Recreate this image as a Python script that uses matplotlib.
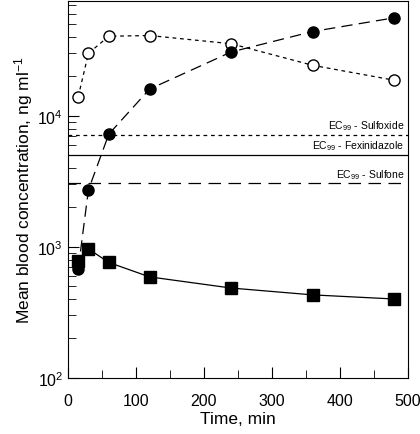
import matplotlib
matplotlib.use('Agg')
import matplotlib.pyplot as plt
import numpy as np

plt.rcParams['font.family'] = ['Liberation Sans', 'DejaVu Sans']
plt.rcParams['mathtext.fontset'] = 'custom'
plt.rcParams['mathtext.rm'] = 'Liberation Sans'
plt.rcParams['mathtext.it'] = 'Liberation Sans:italic'

# tiempos de muestreo (min)
time = [15, 30, 60, 120, 240, 360, 480]

# concentraciones en sangre (ng/ml)
fexinidazole = [780, 965, 760, 590, 485, 430, 400]
sulfoxide = [14000, 30000, 40500, 41000, 35500, 24300, 18700]
sulfone = [680, 2720, 7250, 16000, 30700, 44000, 56000]

# EC99 de cada compuesto
ec99_names = ['Sulfoxide', 'Fexinidazole', 'Sulfone']
ec99_values = [7200, 5000, 3050]
ec99_styles = [(0, (3, 3)), '-', (0, (10, 6))]

fig = plt.figure(figsize=(4.2, 4.35), dpi=100)
ax = fig.add_axes([0.162, 0.129, 0.809, 0.866])

for name, val, ls in zip(ec99_names, ec99_values, ec99_styles):
	ax.axhline(val, color='black', lw=0.9, ls=ls)
	ax.text(495, val*1.05, r'EC$_{99}$ - ' + name, ha='right', va='bottom', fontsize=7.5)

ax.plot(time, sulfoxide, color='black', lw=0.9, ls=(0, (3, 3)), marker='o',
	mfc='white', mec='black', ms=8, mew=1)
ax.plot(time, sulfone, color='black', lw=0.9, ls=(0, (9, 5)), marker='o',
	mfc='black', mec='black', ms=8)
ax.plot(time, fexinidazole, color='black', lw=0.9, marker='s',
	mfc='black', mec='black', ms=8.5)

ax.set_yscale('log')
ax.set_xlim(0, 500)
ax.set_ylim(100, 75000)
ax.set_xticks([0, 100, 200, 300, 400, 500])
ax.set_xticks([50, 150, 250, 350, 450], minor=True)
ax.tick_params(which='both', direction='in', labelsize=11.5)
ax.tick_params(which='major', length=8)
ax.tick_params(which='minor', length=5.5)
ax.tick_params(axis='x', pad=11)
ax.set_xlabel('Time, min', fontsize=12.5, labelpad=2)
ax.set_ylabel(r'Mean blood concentration, ng ml$^{-1}$', fontsize=12.5, labelpad=2)

fig.savefig('out.png', dpi=100)
